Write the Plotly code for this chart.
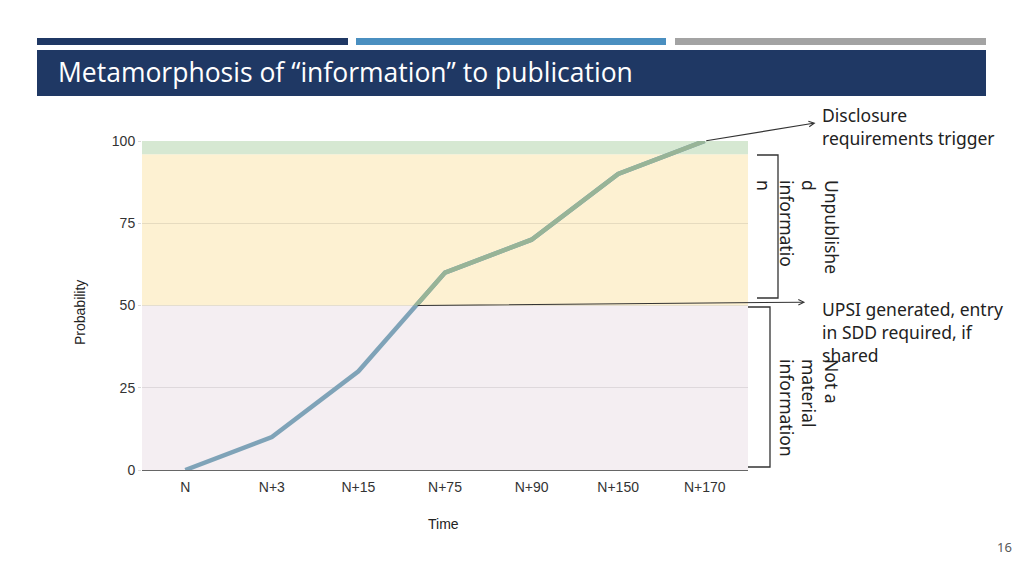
import plotly.graph_objects as go

# data
time_labels = ['N', 'N+3', 'N+15', 'N+75', 'N+90', 'N+150', 'N+170']
probability = [0, 10, 30, 60, 70, 90, 100]

upsi_level = 50
disclosure_level = 96

W, H = 1024, 575


def px(x):
    return x / W


def py(y):
    return 1 - y / H


# where the curve crosses the UPSI level (index units on the category axis)
cross_x = None
for i in range(1, len(probability)):
    if probability[i - 1] < upsi_level <= probability[i]:
        cross_x = i - 1 + (upsi_level - probability[i - 1]) / (probability[i] - probability[i - 1])
        break

fig = go.Figure()

# blue part of the curve (whole line)
fig.add_trace(go.Scatter(x=time_labels, y=probability, mode='lines',
                         line=dict(color='#7fa3b8', width=4.5), showlegend=False,
                         hoverinfo='skip'))
# green part above the UPSI level, clipped by an overlaid axis over the upper half
fig.add_trace(go.Scatter(x=time_labels, y=probability, mode='lines', yaxis='y2',
                         line=dict(color='#98b497', width=4.5), showlegend=False,
                         hoverinfo='skip'))

y_dom = [py(470), py(141)]
y_mid = y_dom[0] + (y_dom[1] - y_dom[0]) * upsi_level / 100

shapes = [
    # background bands
    dict(type='rect', xref='x domain', yref='y', x0=0, x1=1, y0=0, y1=upsi_level,
         fillcolor='#f4eef2', line_width=0, layer='below'),
    dict(type='rect', xref='x domain', yref='y', x0=0, x1=1, y0=upsi_level, y1=disclosure_level,
         fillcolor='#fdf1d2', line_width=0, layer='below'),
    dict(type='rect', xref='x domain', yref='y', x0=0, x1=1, y0=disclosure_level, y1=100,
         fillcolor='#d6e8d2', line_width=0, layer='below'),
    # slide header bars
    dict(type='rect', xref='paper', yref='paper', x0=px(37), x1=px(348), y0=py(45), y1=py(38),
         fillcolor='#1f3864', line_width=0),
    dict(type='rect', xref='paper', yref='paper', x0=px(356), x1=px(666), y0=py(45), y1=py(38),
         fillcolor='#4a8fc0', line_width=0),
    dict(type='rect', xref='paper', yref='paper', x0=px(675), x1=px(986), y0=py(45), y1=py(38),
         fillcolor='#a3a3a3', line_width=0),
    dict(type='rect', xref='paper', yref='paper', x0=px(37), x1=px(986), y0=py(96), y1=py(50),
         fillcolor='#1f3864', line_width=0),
    # brackets
    dict(type='path', xref='paper', yref='paper',
         path='M {a},{b} L {c},{b} L {c},{d} L {a},{d}'.format(a=px(757), c=px(778), b=py(155), d=py(298)),
         line=dict(color='#333333', width=1.3)),
    dict(type='path', xref='paper', yref='paper',
         path='M {a},{b} L {c},{b} L {c},{d} L {a},{d}'.format(a=px(748), c=px(770), b=py(307), d=py(467)),
         line=dict(color='#333333', width=1.3)),
]

side_font = dict(family='Noto Sans', size=17.5, color='#222222')

annotations = [
    dict(xref='paper', yref='paper', x=px(56), y=py(72), xanchor='left', yanchor='middle',
         text='Metamorphosis of “information” to publication', showarrow=False,
         font=dict(family='Open Sans', size=26.5, color='white')),
    dict(xref='paper', yref='paper', x=px(1004), y=py(547), xanchor='center', yanchor='middle',
         text='16', showarrow=False, font=dict(family='Noto Sans', size=13, color='#595959')),
    # arrows
    dict(xref='x', yref='y', axref='x', ayref='y', x=7.16, y=51.0, ax=cross_x, ay=upsi_level,
         text='', showarrow=True, arrowhead=5, arrowsize=1, arrowwidth=1.1, arrowcolor='#333333'),
    dict(xref='x', yref='y', axref='x', ayref='y', x=7.28, y=105.5,
         ax=len(time_labels) - 1, ay=probability[-1],
         text='', showarrow=True, arrowhead=5, arrowsize=1, arrowwidth=1.1, arrowcolor='#333333'),
    # side texts
    dict(xref='paper', yref='paper', x=px(820), y=py(101), xanchor='left', yanchor='top', align='left',
         text='Disclosure<br>requirements trigger', showarrow=False, font=side_font),
    dict(xref='paper', yref='paper', x=px(820), y=py(295), xanchor='left', yanchor='top', align='left',
         text='UPSI generated, entry<br>in SDD required, if<br>shared', showarrow=False, font=side_font),
    dict(xref='paper', yref='paper', x=px(798), y=py(227), xanchor='center', yanchor='middle', align='left',
         text='Unpublishe<br>d<br>informatio<br>n', textangle=90, showarrow=False, font=side_font),
    dict(xref='paper', yref='paper', x=px(809), y=py(408), xanchor='center', yanchor='middle', align='left',
         text='Not a<br>material<br>information', textangle=90, showarrow=False, font=side_font),
    # axis titles
    dict(xref='paper', yref='paper', x=px(443), y=py(524), xanchor='center', yanchor='middle',
         text='Time', showarrow=False, font=dict(family='Liberation Sans', size=14, color='#222222')),
    dict(xref='paper', yref='paper', x=px(80), y=py(313), xanchor='center', yanchor='middle',
         text='Probability', textangle=-90, showarrow=False,
         font=dict(family='Liberation Sans', size=14, color='#222222')),
]

fig.update_layout(
    width=W, height=H,
    margin=dict(l=0, r=0, t=0, b=0),
    paper_bgcolor='white', plot_bgcolor='rgba(0,0,0,0)',
    font=dict(family='Liberation Sans', size=14, color='#333333'),
    xaxis=dict(domain=[px(142), px(748)], type='category', range=[-0.5, len(time_labels) - 0.5],
               showgrid=False, showline=True, linecolor='#666666', linewidth=1.3,
               ticks='', zeroline=False, automargin=False, ticklabelstandoff=4,
               tickfont=dict(size=14, color='#333333')),
    yaxis=dict(domain=y_dom, range=[0, 100], tickvals=[0, 25, 50, 75, 100],
               showgrid=True, gridcolor='rgba(0,0,0,0.09)', gridwidth=1, zeroline=False,
               ticks='outside', ticklen=3, tickcolor='rgba(0,0,0,0.15)', automargin=False,
               tickfont=dict(size=14, color='#333333')),
    yaxis2=dict(domain=[y_mid, y_dom[1]], range=[upsi_level, 100], anchor='x',
                visible=False, showgrid=False),
    shapes=shapes,
    annotations=annotations,
)

fig.write_html('out.html', config={'displayModeBar': False},
               post_script="document.body.style.margin='0';document.body.style.overflow='hidden';")
